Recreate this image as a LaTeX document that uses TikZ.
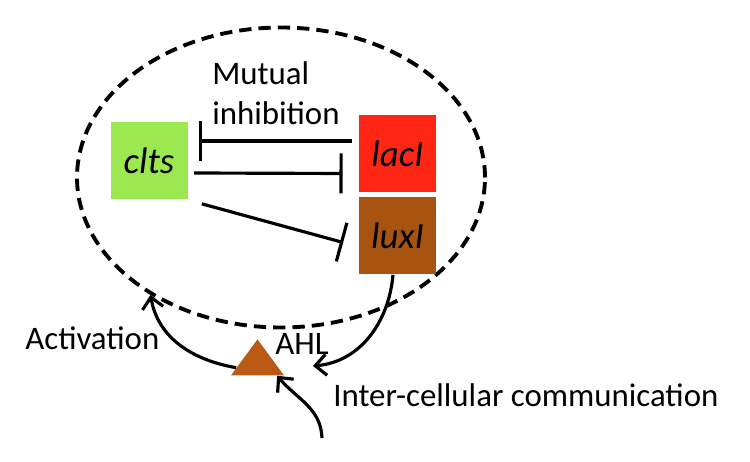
\documentclass[tikz,border=0pt]{standalone}
\usepackage{fontspec}
\setmainfont{Carlito}
\usetikzlibrary{positioning,arrows.meta,calc,shapes.geometric}
\definecolor{cltsgreen}{RGB}{155,232,80}
\definecolor{lacred}{RGB}{255,38,22}
\definecolor{luxbrown}{RGB}{168,84,16}
\definecolor{ahlbrown}{RGB}{186,90,20}

\begin{document}
\begin{tikzpicture}[
    gene/.style={minimum width=1.54cm, minimum height=1.54cm, inner sep=0, font=\fontsize{21}{25}\selectfont\itshape},
    lbl/.style={inner sep=0, font=\fontsize{18.7}{22.7}\selectfont},
    inhib/.style={line width=1.8pt, -{Bar[width=8mm]}},
    act/.style={line width=1.8pt, -{Straight Barb[length=2.2mm, width=4.2mm]}}
]
    \useasboundingbox (0,0) rectangle (15,9.24);

    % cell
    \node[draw, ellipse, line width=2.2pt, dash pattern=on 7pt off 4pt,
          minimum width=8.16cm, minimum height=6cm] (cell) at (5.62,5.69) {};

    % genes
    \node[gene, fill=cltsgreen] (clts) at (2.98,6.03) {clts};
    \node[gene, fill=lacred] (lacI) at (7.95,6.17) {lacI};
    \node[gene, fill=luxbrown] (luxI) at (7.95,4.52) {luxI};

    \node[lbl, align=left, anchor=west] (mutinh) at (4.24,7.37) {Mutual\\inhibition};

    \draw[inhib] ($(lacI.west)+(-0.14,0.25)$) -- ($(clts.east)+(0.22,0.39)$);
    \draw[inhib] ($(clts.east)+(0.12,-0.25)$) -- ($(lacI.west)+(-0.32,-0.4)$);
    \draw[inhib] ($(clts.south east)+(0.28,-0.09)$) -- ($(luxI.west)+(-0.31,-0.13)$);

    % AHL
    \node[isosceles triangle, isosceles triangle stretches, shape border rotate=90,
          minimum width=1.06cm, minimum height=0.72cm, inner sep=0, fill=ahlbrown] (ahl) at (5.15,2.0) {};
    \node[lbl, anchor=base west] (ahllbl) at (5.5,2.14) {AHL};
    \node[lbl, anchor=base west] (actlbl) at (0.5,2.24) {Activation};
    \node[lbl, anchor=base west] (comlbl) at (6.66,1.10) {Inter-cellular communication};

    \coordinate (luxend) at (6.26,1.92);
    \coordinate (comstart) at (6.44,0.48);

    \draw[act] (ahl.195) to[out=170,in=-80] (cell.222);
    \draw[act] ($(luxI.south)+(-0.09,0)$) to[out=-95,in=5] (luxend);
    \draw[act] (comstart) to[out=92,in=-50] (ahl.-35);
\end{tikzpicture}
\end{document}
